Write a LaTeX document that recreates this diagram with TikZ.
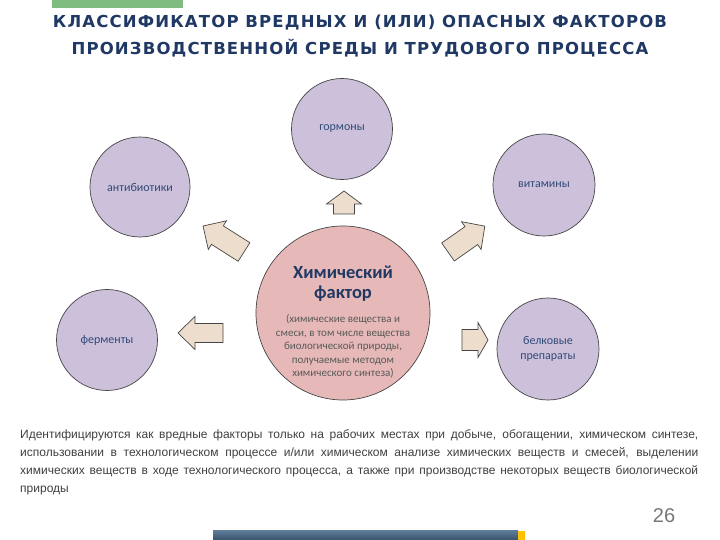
\documentclass[tikz,border=0pt]{standalone}
\usepackage{fontspec}
\setmainfont{Carlito}
\newfontfamily\titlefont[LetterSpace=7]{DejaVu Sans}
\newfontfamily\narrowfont{Liberation Sans}
\definecolor{titleblue}{RGB}{31,56,100}
\definecolor{lilac}{RGB}{204,192,218}
\definecolor{pinkc}{RGB}{230,185,184}
\definecolor{beige}{RGB}{236,221,204}
\definecolor{edgegray}{RGB}{70,70,70}
\definecolor{labelblue}{RGB}{50,74,120}
\definecolor{subgray}{RGB}{89,89,89}
\definecolor{bodygray}{RGB}{64,64,64}
\definecolor{greenbar}{RGB}{127,188,127}
\definecolor{bartop}{RGB}{92,122,150}
\definecolor{barbot}{RGB}{58,82,108}
\definecolor{baryellow}{RGB}{255,192,0}
\definecolor{pagegray}{RGB}{120,120,120}
\tikzset{
  leaf/.style={circle,draw=edgegray,line width=0.7pt,fill=lilac,inner sep=0pt,
    text=labelblue,align=center,font=\fontsize{12}{15}\selectfont},
  hub/.style={circle,draw=edgegray,line width=0.7pt,fill=pinkc,inner sep=0pt},
  blockarr/.style={draw=edgegray,line width=0.7pt,fill=beige,line join=miter}
}
% #1 name, #2 tail x, #3 tail y, #4 angle, #5 length, #6 head length, #7 head half, #8 shaft half
\newcommand{\blockarrow}[8]{%
  \begin{scope}[shift={(#2,#3)},rotate=#4]
    \coordinate (#1) at (0,0);
    \draw[blockarr] (0,-#8) -- ({#5-#6},-#8) -- ({#5-#6},-#7) -- (#5,0)
      -- ({#5-#6},#7) -- ({#5-#6},#8) -- (0,#8) -- cycle;
  \end{scope}}
\begin{document}
\begin{tikzpicture}[x=1pt,y=1pt]
\useasboundingbox (0,0) rectangle (720,540);
\fill[white] (0,0) rectangle (720,540);
% top green bar
\fill[greenbar] (52,532) rectangle (183,540);
% title
\node[text=titleblue,font=\titlefont\bfseries\fontsize{16.5}{18}\selectfont] (t1) at (360,517) {КЛАССИФИКАТОР ВРЕДНЫХ И (ИЛИ) ОПАСНЫХ ФАКТОРОВ};
\node[text=titleblue,font=\titlefont\bfseries\fontsize{16.5}{18}\selectfont] (t2) at (360,492) {ПРОИЗВОДСТВЕННОЙ СРЕДЫ И ТРУДОВОГО ПРОЦЕССА};
% circles
\node[hub,minimum size=174pt] (hub) at (343,227) {};
\node[text=titleblue,font=\bfseries\fontsize{18.5}{20}\selectfont] (h1) at (343,268) {Химический};
\node[text=titleblue,font=\bfseries\fontsize{18.5}{20}\selectfont] (h2) at (343,246) {фактор};
\node[text=subgray,align=center,font=\fontsize{11}{13.6}\selectfont,anchor=north] (h3) at (343,229)
  {(химические вещества и\\смеси, в том числе вещества\\биологической природы,\\получаемые методом\\химического синтеза)};
\node[leaf,minimum size=101pt] (horm) at (342,411) {гормоны};
\node[leaf,minimum size=100pt] (anti) at (140,353) {антибиотики};
\node[leaf,minimum size=102pt] (vit) at (544,355) {витамины};
\node[leaf,minimum size=101pt] (ferm) at (107,200) {ферменты};
\node[leaf,minimum size=102pt] (belk) at (548,191) {белковые\\препараты};
% block arrows
\blockarrow{aup}{344}{326}{90}{23}{13}{17.5}{10.5}
\blockarrow{aul}{244}{288}{147.6}{48.5}{17}{17}{11}
\blockarrow{aur}{448}{288}{35.1}{45}{16.5}{17}{11}
\blockarrow{al}{223}{207}{180}{45}{17}{16.5}{9.5}
\blockarrow{ar}{462}{200}{0}{26}{10}{17.5}{10.5}
% body text
\node[anchor=north west,inner sep=0pt,text width=678pt,align=justify,text=bodygray,
  font=\narrowfont\fontsize{12}{18}\selectfont] (body) at (20,110)
  {\hyphenpenalty=10000 Идентифицируются как вредные факторы только на рабочих местах при добыче, обогащении, химическом синтезе,\linebreak
  использовании в технологическом процессе и/или химическом анализе химических веществ и смесей, выделении\linebreak
  химических веществ в ходе технологического процесса, а также при производстве некоторых веществ биологической\linebreak
  природы};
% page number
\node[text=pagegray,font=\narrowfont\fontsize{20}{22}\selectfont] (pg) at (664,24) {26};
% bottom bar
\shade[top color=bartop,bottom color=barbot] (213,0) rectangle (518,9);
\fill[baryellow] (518,0) rectangle (525,9);
\end{tikzpicture}
\end{document}
